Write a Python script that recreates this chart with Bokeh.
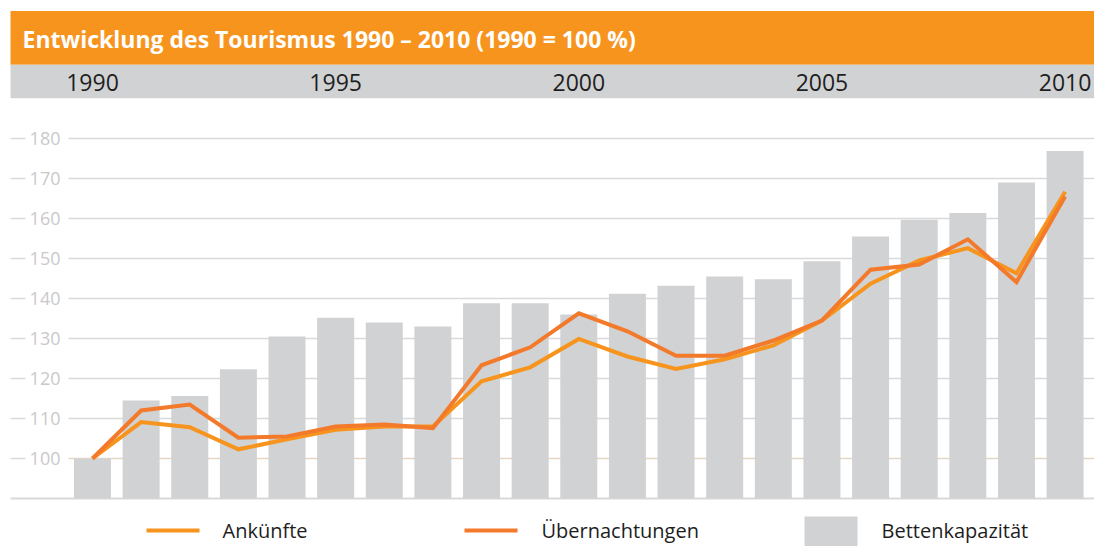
from bokeh.plotting import figure
from bokeh.models import Range1d
from bokeh.core.properties import value
from bokeh.embed import file_html
from bokeh.resources import INLINE

# ---- data ----
years = list(range(1990, 2011))
bettenkapazitaet = [100, 114.5, 115.6, 122.3, 130.5, 135.2, 134.0, 133.0, 138.8, 138.8,
                    136.0, 141.2, 143.2, 145.5, 144.8, 149.3, 155.5, 159.7, 161.4, 169.0, 176.9]
ankuenfte = [100, 109.1, 107.8, 102.3, 104.8, 107.2, 108.0, 108.0, 119.3, 122.8,
             129.9, 125.5, 122.4, 124.8, 128.3, 134.5, 143.7, 149.5, 152.6, 146.3, 166.7]
uebernachtungen = [100, 112.0, 113.5, 105.2, 105.5, 108.0, 108.5, 107.6, 123.3, 127.8,
                   136.3, 131.8, 125.7, 125.7, 129.5, 134.5, 147.2, 148.5, 154.8, 144.1, 165.5]
y_ticks = [100, 110, 120, 130, 140, 150, 160, 170, 180]
header_years = [1990, 1995, 2000, 2005, 2010]
title = "Entwicklung des Tourismus 1990 \u2013 2010 (1990 = 100 %)"
legend_labels = ["Ankünfte", "Übernachtungen", "Bettenkapazität"]

# ---- colours ----
ORANGE = "#F7941D"
ORANGE_DARK = "#F37A2A"
GREY_BAR = "#D1D2D4"
GRID = "#D9D9DA"
TICK_TXT = "#C9C9CB"
FONT = value("Open Sans")

# ---- layout helpers (picture pixel -> data) ----
W, H = 1094, 546
PX_YEAR = 48.63
X0_PAGE = 92.0
def xd(px):
    return 1990 + (px - X0_PAGE) / PX_YEAR
def yd(py):
    return 100 + (458.0 - py) / 4.0

p = figure(width=W, height=H, output_backend="svg", toolbar_location=None,
           x_range=Range1d(xd(0), xd(W)), y_range=Range1d(yd(H), yd(0)),
           x_axis_location=None, y_axis_location=None, min_border=0)
p.grid.visible = False
p.outline_line_color = None
p.background_fill_color = "white"

# header bands
p.quad(left=xd(10), right=xd(1094), bottom=yd(64.3), top=yd(10.5), fill_color=ORANGE, line_color=None)
p.quad(left=xd(10), right=xd(1094), bottom=yd(97.7), top=yd(64.3), fill_color=GREY_BAR, line_color=None)
p.text(x=[xd(22)], y=[yd(38)], text=[title], text_color="white", text_font=FONT,
       text_font_size="23px", text_font_style="bold", text_baseline="middle", text_align="left")
p.text(x=header_years, y=[yd(82)] * len(header_years), text=[str(y) for y in header_years],
       text_color="#1E1E1E", text_font=FONT, text_font_size="23px",
       text_baseline="middle", text_align="center")

# grid lines and y tick labels
grid_vals = [t for t in y_ticks if t != 100]
p.segment(x0=[xd(68)] * len(grid_vals), x1=[xd(1094)] * len(grid_vals), y0=grid_vals, y1=grid_vals,
          line_color=GRID, line_width=1.5)
p.segment(x0=[xd(68)], x1=[xd(1094)], y0=[100], y1=[100], line_color="#E6D5C3", line_width=1.5)
p.segment(x0=[xd(10)] * len(y_ticks), x1=[xd(25)] * len(y_ticks), y0=y_ticks, y1=y_ticks,
          line_color=GRID, line_width=1.5)
p.text(x=[xd(60)] * len(y_ticks), y=y_ticks, text=[str(t) for t in y_ticks], text_color=TICK_TXT,
       text_font=FONT, text_font_size="18px", text_baseline="middle", text_align="right")
# base line
p.segment(x0=[xd(10)], x1=[xd(1094)], y0=[90], y1=[90], line_color=GRID, line_width=2)

# bars
p.vbar(x=years, top=bettenkapazitaet, bottom=90, width=37 / PX_YEAR, fill_color=GREY_BAR, line_color=None)

# lines
p.line(years, ankuenfte, line_color=ORANGE, line_width=4, line_join="miter")
p.line(years, uebernachtungen, line_color=ORANGE_DARK, line_width=4, line_join="miter")

# legend (manual)
ly = yd(530)
p.segment(x0=[xd(146)], x1=[xd(199)], y0=[ly], y1=[ly], line_color=ORANGE, line_width=4)
p.segment(x0=[xd(464)], x1=[xd(517)], y0=[ly], y1=[ly], line_color=ORANGE_DARK, line_width=4)
p.quad(left=xd(804), right=xd(857), top=yd(516), bottom=yd(560), fill_color=GREY_BAR, line_color=None)
p.text(x=[xd(222), xd(541), xd(881)], y=[ly] * 3, text=legend_labels, text_color="#1E1E1E",
       text_font=FONT, text_font_size="20px", text_baseline="middle", text_align="left")

open("out.html", "w").write(file_html(p, INLINE))
